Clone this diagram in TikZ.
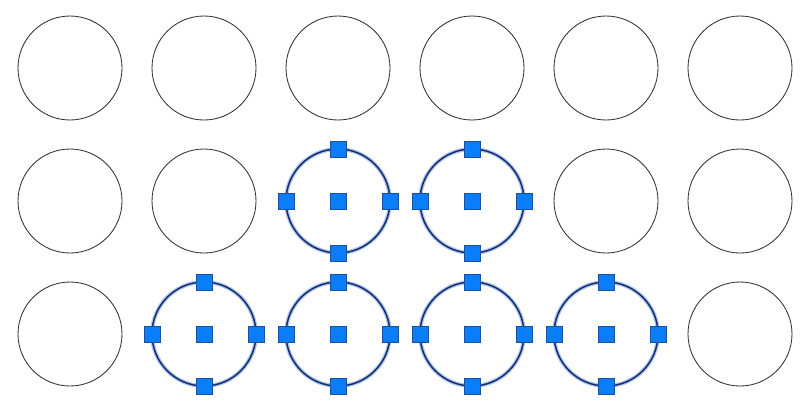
\documentclass[tikz,border=0pt]{standalone}
\usepackage{tikz}
\usetikzlibrary{positioning}
\definecolor{gripblue}{HTML}{0A7EF8}
\definecolor{gripedge}{HTML}{1F4E9A}
\definecolor{ringnavy}{HTML}{1A2A6C}
\definecolor{ringglow}{HTML}{A9C8F2}
\tikzset{
  ring/.style={circle,draw=black!80,line width=0.85pt,minimum size=104pt,inner sep=0pt,outer sep=0pt},
  picked/.style={ring,draw=ringnavy,line width=1.5pt,preaction={draw=ringglow,line width=4pt}},
  grip/.style={rectangle,draw=gripedge,fill=gripblue,line width=0.5pt,minimum size=16pt,inner sep=0pt}
}
\begin{document}
\begin{tikzpicture}[x=1pt,y=-1pt]
\useasboundingbox[fill=white] (0,0) rectangle (800,410);
% plain circles
\foreach \r/\c in {1/1,1/2,1/3,1/4,1/5,1/6,2/1,2/2,2/5,2/6,3/1,3/6}
  \node[ring] (c\r\c) at ({70+134*(\c-1)},{68+133*(\r-1)}) {};
% selected circles with grips
\foreach \r/\c in {2/3,2/4,3/2,3/3,3/4,3/5}{
  \node[picked] (c\r\c) at ({70+134*(\c-1)},{68+133*(\r-1)}) {};
  \foreach \a in {center,north,south,east,west}
    \node[grip] (g\r\c\a) at (c\r\c.\a) {};
}
\end{tikzpicture}
\end{document}
